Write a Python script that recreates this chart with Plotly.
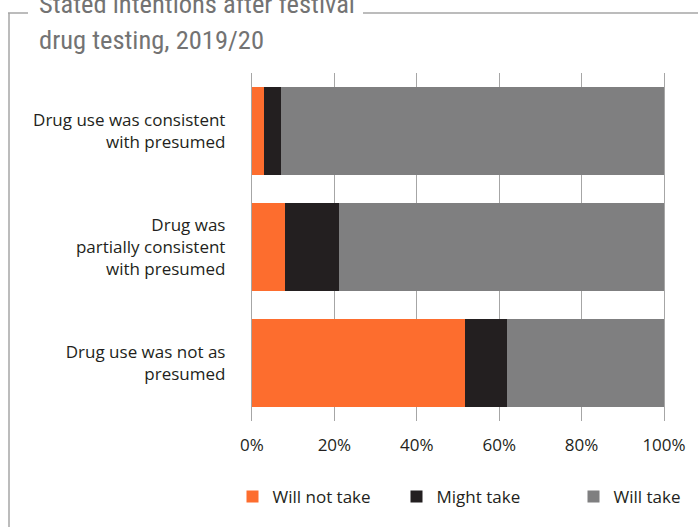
import plotly.graph_objects as go

categories = [
    "Drug use was consistent<br>with presumed",
    "Drug was<br>partially consistent<br>with presumed",
    "Drug use was not as<br>presumed",
]
will_not_take = [2.8, 8.1, 51.6]
might_take = [4.3, 13.1, 10.2]
will_take = [92.9, 78.8, 38.2]
series_names = ["Will not take", "Might take", "Will take"]
series_colors = ["#FD6D2E", "#231F20", "#7F7F80"]
x_ticks = [0, 20, 40, 60, 80, 100]
x_tick_labels = ["0%", "20%", "40%", "60%", "80%", "100%"]
title_lines = ["Stated intentions after festival", "drug testing, 2019/20"]

W, H = 698, 527
ML, MR, MT, MB = 252, 34, 73, 106
PW, PH = W - ML - MR, H - MT - MB


def px_x(p):
    return (p - ML) / PW


def px_y(p):
    return (H - MB - p) / PH


legend_ids = ["legend", "legend2", "legend3"]
legend_starts = [232.5, 396.5, 573.5]

fig = go.Figure()
for name, vals, col, lid in zip(series_names, [will_not_take, might_take, will_take], series_colors, legend_ids):
    fig.add_trace(go.Bar(
        y=categories, x=vals, name=name, orientation="h",
        marker=dict(color=col, line=dict(width=0)),
        hoverinfo="x+name", legend=lid,
    ))

text_font = dict(family="Open Sans, Liberation Sans, sans-serif", size=17, color="#231F20")
title_font = dict(family="Liberation Sans Narrow, Roboto Condensed, DejaVu Sans Condensed, sans-serif",
                  size=26.5, color="#737373")

annotations = []
for i, line in enumerate(title_lines):
    annotations.append(dict(
        text=line, xref="paper", yref="paper",
        x=px_x(37), y=px_y([3, 39][i]), xanchor="left", yanchor="middle",
        showarrow=False, font=title_font,
    ))

border = dict(color="#A6A6A6", width=1.5)
shapes = [
    dict(type="line", xref="paper", yref="paper", x0=px_x(9), x1=px_x(9), y0=px_y(13), y1=px_y(H + 5), line=border),
    dict(type="line", xref="paper", yref="paper", x0=px_x(8), x1=px_x(28), y0=px_y(13), y1=px_y(13), line=border),
    dict(type="line", xref="paper", yref="paper", x0=px_x(363), x1=px_x(W + 5), y0=px_y(13), y1=px_y(13), line=border),
]

layout_legends = {}
for lid, start in zip(legend_ids, legend_starts):
    layout_legends[lid] = dict(
        orientation="h", x=px_x(start), xanchor="left", y=px_y(497), yanchor="middle",
        font=text_font, bgcolor="rgba(0,0,0,0)",
    )

fig.update_layout(
    width=W, height=H,
    margin=dict(l=ML, r=MR, t=MT, b=MB, autoexpand=False),
    barmode="stack", bargap=0.235,
    plot_bgcolor="white", paper_bgcolor="white",
    showlegend=True,
    xaxis=dict(range=[0, 100], tickvals=x_ticks, ticktext=x_tick_labels, showgrid=True,
               gridcolor="#A6A6A6", gridwidth=1.3, zeroline=False, showline=False,
               tickfont=text_font, ticklabelstandoff=12, fixedrange=True, automargin=False),
    yaxis=dict(categoryorder="array", categoryarray=categories, autorange="reversed",
               showgrid=False, zeroline=False, showline=True, mirror=True,
               linecolor="#A6A6A6", linewidth=1.3, tickfont=text_font,
               ticklabelstandoff=22, fixedrange=True, automargin=False),
    annotations=annotations,
    shapes=shapes,
    font=text_font,
    **layout_legends,
)

fig.write_html("out.html", config={"displayModeBar": False},
               post_script="document.body.style.margin='0px';")
